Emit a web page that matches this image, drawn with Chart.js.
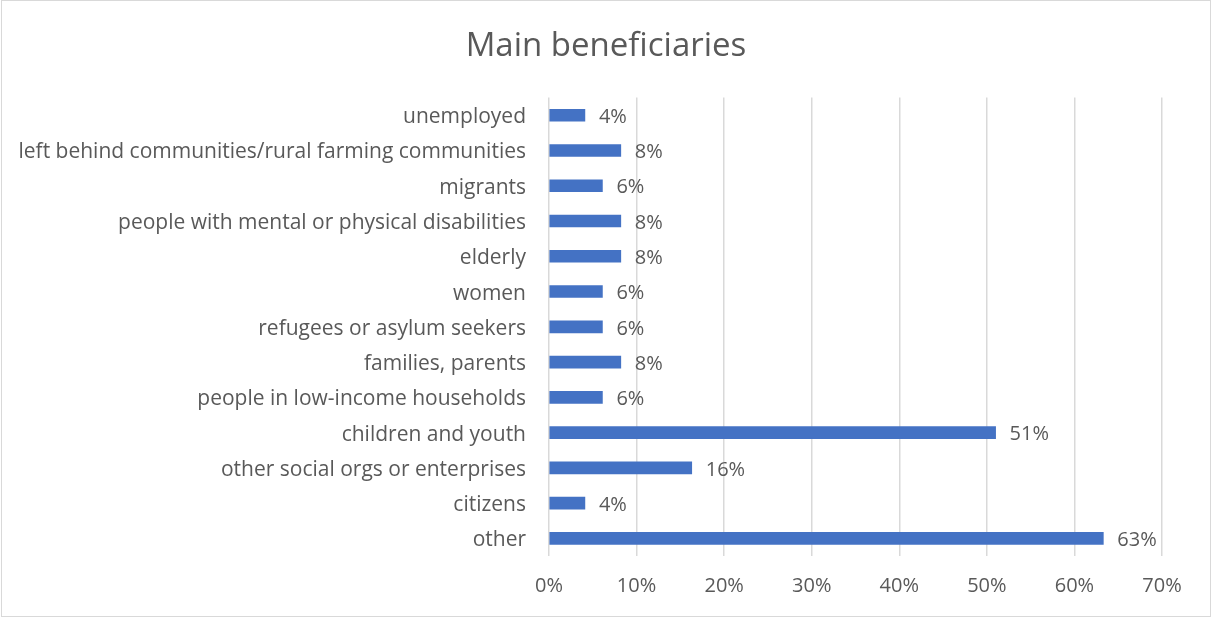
<!DOCTYPE html>
<html>
<head>
<meta charset="utf-8">
<script src="https://cdn.jsdelivr.net/npm/chart.js@4/dist/chart.umd.min.js"></script>
<style>
  html, body { margin: 0; padding: 0; background: #fff; }
  #wrap { position: relative; width: 1212px; height: 618px; }
  #frame { position: absolute; left: 1px; top: 0; width: 1208px; height: 615px; border: 1px solid #d9d9d9; pointer-events: none; }
  canvas { position: absolute; left: 0; top: 0; }
</style>
</head>
<body>
<div id="wrap">
  <canvas id="chart" width="1212" height="618"></canvas>
  <div id="frame"></div>
</div>
<script>
// Beneficiary groups, top to bottom
const categories = [
  'unemployed',
  'left behind communities/rural farming communities',
  'migrants',
  'people with mental or physical disabilities',
  'elderly',
  'women',
  'refugees or asylum seekers',
  'families, parents',
  'people in low-income households',
  'children and youth',
  'other social orgs or enterprises',
  'citizens',
  'other'
];

// Share of respondents naming each group (%)
const shares = [4.1, 8.2, 6.1, 8.2, 8.2, 6.1, 6.1, 8.2, 6.1, 51.0, 16.3, 4.1, 63.3];

// Value axis ticks (%)
const xTicks = [0, 10, 20, 30, 40, 50, 60, 70];

const FONT = '"Open Sans", Lato, sans-serif';
const GREY = '#595959';

// Writes each bar's percentage just past its end
const valueLabels = {
  id: 'valueLabels',
  afterDatasetsDraw(chart) {
    const ctx = chart.ctx;
    const meta = chart.getDatasetMeta(0);
    ctx.save();
    ctx.font = '20px ' + FONT;
    ctx.fillStyle = GREY;
    ctx.textAlign = 'left';
    ctx.textBaseline = 'middle';
    meta.data.forEach((bar, i) => {
      ctx.fillText(Math.round(shares[i]) + '%', bar.x + 14, bar.y + 2);
    });
    ctx.restore();
  }
};

new Chart(document.getElementById('chart'), {
  type: 'bar',
  data: {
    labels: categories,
    datasets: [{
      data: shares,
      backgroundColor: '#4472C4',
      borderWidth: 0,
      barThickness: 12,
      yAxisID: 'y'
    }]
  },
  options: {
    indexAxis: 'y',
    responsive: false,
    animation: false,
    layout: { padding: { top: 0, left: 0, right: 0, bottom: 21 } },
    plugins: {
      legend: { display: false },
      tooltip: { enabled: false },
      title: {
        display: true,
        text: 'Main beneficiaries',
        color: GREY,
        font: { family: FONT, size: 33, weight: 'normal', lineHeight: 1.2 },
        padding: { top: 27, bottom: 31 }
      }
    },
    scales: {
      x: {
        min: 0,
        max: 70,
        afterBuildTicks(scale) { scale.ticks = xTicks.map(v => ({ value: v })); },
        afterFit(scale) { scale.height = 41; },
        ticks: {
          color: GREY,
          padding: 18,
          font: { family: FONT, size: 20, lineHeight: 1.2 },
          callback: v => v + '%'
        },
        grid: { color: '#d9d9d9', lineWidth: 1.5, drawTicks: false },
        border: { display: false }
      },
      y: {
        afterFit(scale) { scale.width = 549; },
        ticks: {
          color: GREY,
          padding: 23,
          labelOffset: 2,
          font: { family: FONT, size: 21, lineHeight: 1.2 }
        },
        grid: { display: false, drawTicks: false },
        border: { display: false }
      },
      // empty right-hand margin beside the plot
      yRight: {
        type: 'category',
        position: 'right',
        labels: [''],
        afterFit(scale) { scale.width = 50; },
        ticks: { display: false },
        grid: { display: false, drawTicks: false },
        border: { display: false }
      }
    }
  },
  plugins: [valueLabels]
});
</script>
</body>
</html>
